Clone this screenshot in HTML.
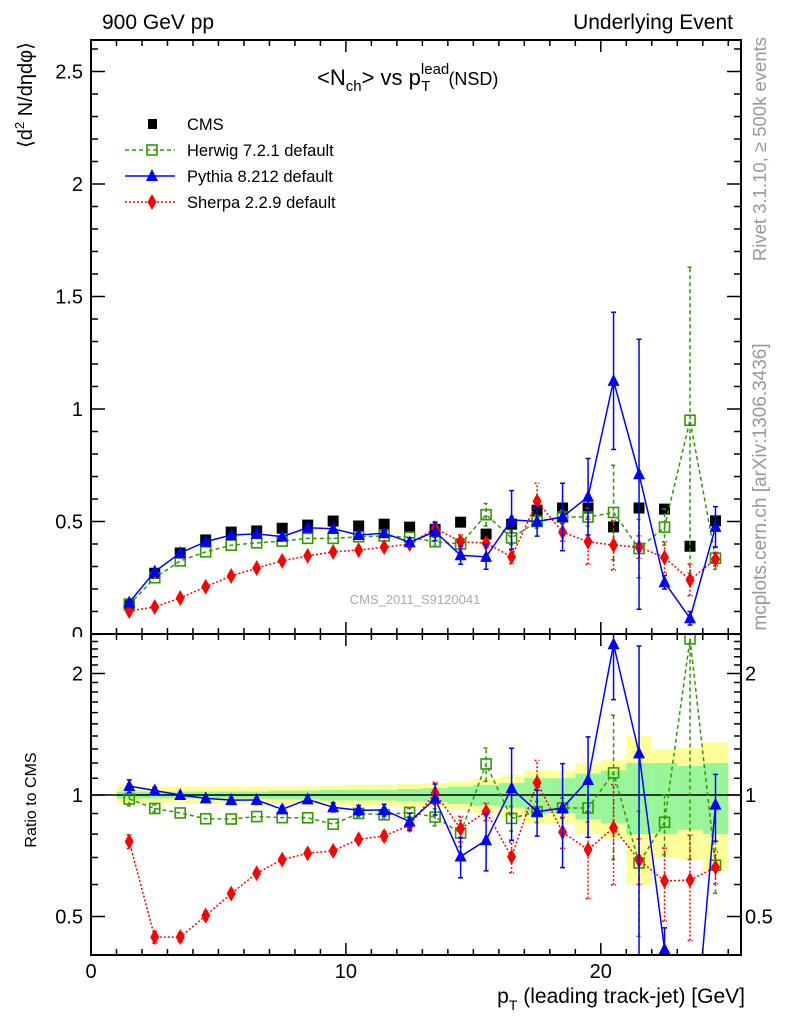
<!DOCTYPE html>
<html><head><meta charset="utf-8"><style>
html,body{margin:0;padding:0;background:#fff;overflow:hidden;}
svg{display:block;font-family:"Liberation Sans",sans-serif;}
</style></head><body>
<svg id="chart" width="786" height="1024" viewBox="0 0 786 1024">
<defs>
<clipPath id="clipMain"><rect x="91" y="40" width="650" height="594"/></clipPath>
<clipPath id="clipRatio"><rect x="91" y="634" width="650" height="321"/></clipPath>
</defs>
<text x="102" y="29" font-size="21">900 GeV pp</text>
<text x="733" y="29" font-size="21" text-anchor="end">Underlying Event</text>
<text x="317" y="85" font-size="22">&lt;N<tspan font-size="15" dy="6">ch</tspan><tspan dy="-6">&gt; vs p</tspan><tspan font-size="15" dy="-11">lead</tspan><tspan font-size="15" dx="-28" dy="17">T</tspan><tspan font-size="18" dx="18" dy="-6">(NSD)</tspan></text>
<text transform="translate(32,148) rotate(-90)" font-size="20">⟨d<tspan font-size="13" dy="-8">2</tspan><tspan dy="8"> N/dηdφ⟩</tspan></text>
<text transform="translate(36,800) rotate(-90)" font-size="16" text-anchor="middle">Ratio to CMS</text>
<text transform="translate(766,37) rotate(-90)" font-size="18.5" fill="#999" text-anchor="end">Rivet 3.1.10, ≥ 500k events</text>
<text transform="translate(766,487) rotate(-90)" font-size="19" fill="#999" text-anchor="middle">mcplots.cern.ch [arXiv:1306.3436]</text>
<text x="415" y="604" font-size="13" fill="#aaa" text-anchor="middle">CMS_2011_S9120041</text>
<text x="745" y="1003" font-size="21" text-anchor="end">p<tspan font-size="14" dy="7">T</tspan><tspan dy="-7"> (leading track-jet) [GeV]</tspan></text>
<g id="bands" clip-path="url(#clipRatio)"></g>
<g id="marks"></g>
<g id="axes"></g>
<g id="legend"></g>
</svg>
<script>
const pt = [1.5,2.5,3.5,4.5,5.5,6.5,7.5,8.5,9.5,10.5,11.5,12.5,13.5,14.5,15.5,16.5,17.5,18.5,19.5,20.5,21.5,22.5,23.5,24.5];
const cms = [0.133,0.27,0.36,0.418,0.453,0.458,0.47,0.484,0.502,0.48,0.488,0.475,0.465,0.497,0.444,0.488,0.55,0.56,0.56,0.476,0.56,0.555,0.39,0.503];
const herwig = [0.13,0.25,0.325,0.365,0.395,0.405,0.413,0.425,0.425,0.432,0.436,0.43,0.41,0.40,0.53,0.427,0.5,0.52,0.52,0.54,0.38,0.475,0.95,0.337];
const herwigErr = [0.005,0.005,0.005,0.005,0.005,0.005,0.006,0.006,0.007,0.008,0.008,0.01,0.02,0.03,0.05,0.03,0.03,0.03,0.04,0.21,0.13,0.08,0.68,0.05];
const pythia = [0.14,0.277,0.36,0.41,0.44,0.445,0.433,0.472,0.468,0.44,0.448,0.408,0.455,0.35,0.343,0.507,0.5,0.52,0.61,1.125,0.71,0.23,0.07,0.476];
const pythiaErr = [0.005,0.005,0.005,0.005,0.006,0.006,0.008,0.01,0.012,0.012,0.015,0.02,0.04,0.04,0.055,0.13,0.065,0.15,0.17,0.305,0.6,0.03,0.03,0.09];
const sherpa = [0.102,0.12,0.16,0.21,0.258,0.293,0.325,0.347,0.365,0.373,0.386,0.4,0.47,0.41,0.404,0.343,0.59,0.453,0.41,0.395,0.386,0.34,0.24,0.333];
const sherpaErr = [0.004,0.004,0.004,0.005,0.005,0.005,0.006,0.006,0.007,0.008,0.01,0.012,0.03,0.03,0.02,0.03,0.08,0.04,0.1,0.11,0.05,0.07,0.07,0.03];
const yellowHW = [0.05,0.05,0.05,0.05,0.05,0.05,0.05,0.05,0.055,0.06,0.06,0.065,0.07,0.08,0.1,0.12,0.15,0.15,0.2,0.22,0.4,0.3,0.31,0.35];
const greenHW = [0.02,0.02,0.02,0.02,0.02,0.02,0.025,0.025,0.03,0.03,0.03,0.035,0.04,0.05,0.06,0.07,0.1,0.1,0.13,0.15,0.2,0.2,0.18,0.2];
const xTicks = [0,10,20];
const yTicks = [0,0.5,1,1.5,2,2.5];
const yTickLabels = ["0","0.5","1","1.5","2","2.5"];
const rTicks = [0.5,1,2];
const rTickLabels = ["0.5","1","2"];

const NS='http://www.w3.org/2000/svg';
const X0=91,X1=741,XMAX=25.5;
const MT=40,MB=634,RB=955;
const sx=v=>X0+v*(X1-X0)/XMAX;
const sy=v=>MB-v*225;
const sr=v=>795-Math.log2(v)*121.5;
function mk(tag,attrs,parent){const e=document.createElementNS(NS,tag);for(const k in attrs)e.setAttribute(k,attrs[k]);parent.appendChild(e);return e;}
const bands=document.getElementById('bands'),marks=document.getElementById('marks'),axes=document.getElementById('axes'),legend=document.getElementById('legend');

pt.forEach((p,i)=>{
  const y=mk('rect',{x:sx(p-0.5),width:sx(p+0.5)-sx(p-0.5),y:sr(1+yellowHW[i]),height:sr(1-yellowHW[i])-sr(1+yellowHW[i]),fill:'#ffff99'},bands);
  
  
});
pt.forEach((p,i)=>{
  const g=mk('rect',{x:sx(p-0.5),width:sx(p+0.5)-sx(p-0.5),y:sr(1+greenHW[i]),height:sr(1-greenHW[i])-sr(1+greenHW[i]),fill:'#99f599'},bands);
  
  
});
const one=mk('line',{x1:X0,x2:X1,y1:sr(1),y2:sr(1),stroke:'#000','stroke-width':1.5},bands);



function marker(type,cx,cy,color,g){
  let m;
  if(type==='sq') m=mk('rect',{x:cx-5.5,y:cy-5.5,width:11,height:11,fill:'#000'},g);
  else if(type==='osq') m=mk('rect',{x:cx-5,y:cy-5,width:10,height:10,fill:'none',stroke:color,'stroke-width':1.6},g);
  else if(type==='tri') m=mk('polygon',{points:`${cx},${cy-7} ${cx-6},${cy+5} ${cx+6},${cy+5}`,fill:color},g);
  else m=mk('polygon',{points:`${cx},${cy-8} ${cx-4.5},${cy} ${cx},${cy+8} ${cx+4.5},${cy}`,fill:color},g);
  return m;
}
function series(name,vals,errs,color,dash,type,panel){
  const ratio=panel==='ratio';
  const g=mk('g',{'clip-path':ratio?'url(#clipRatio)':'url(#clipMain)'},marks);
  
  
  const yv=i=>ratio?vals[i]/cms[i]:vals[i];
  const Y=v=>ratio?sr(Math.max(v,0.05)):sy(v);
  if(errs){
    pt.forEach((p,i)=>{
      const e=ratio?errs[i]/cms[i]:errs[i];
      const lo=Math.max(yv(i)-e,0.01),hi=yv(i)+e;
      if(Y(lo)-Y(hi)>6){
        const x=sx(p);
        const eb=mk('path',{d:`M${x},${Y(lo)}V${Y(hi)}M${x-2.5},${Y(lo)}h5M${x-2.5},${Y(hi)}h5`,stroke:color,'stroke-width':1.5,fill:'none','stroke-dasharray':dash||'none'},g);
        
        
      }
    });
  }
  if(type!=='sq'){
    const d=pt.map((p,i)=>(i?'L':'M')+sx(p)+','+Y(yv(i))).join('');
    const l=mk('path',{d,stroke:color,'stroke-width':1.5,fill:'none','stroke-dasharray':dash||'none'},g);
    
    
  }
  pt.forEach((p,i)=>{
    const m=marker(type,sx(p),Y(yv(i)),color,g);
    
    
  });
}
series('cms',cms,null,'#000',null,'sq','main');
series('herwig',herwig,herwigErr,'#339900','4,3','osq','main');
series('sherpa',sherpa,sherpaErr,'#ff0000','2,2','dia','main');
series('pythia',pythia,pythiaErr,'#0000ff',null,'tri','main');
series('herwig',herwig,herwigErr,'#339900','4,3','osq','ratio');
series('sherpa',sherpa,sherpaErr,'#ff0000','2,2','dia','ratio');
series('pythia',pythia,pythiaErr,'#0000ff',null,'tri','ratio');

[[MT,MB],[MB,RB]].forEach(([t,b],k)=>{
  const f=mk('rect',{x:X0,y:t,width:X1-X0,height:b-t,fill:'none',stroke:'#000','stroke-width':2},axes);
  
  
});
let tp='';
for(let v=0;v<=25;v++){const x=sx(v),L=(v%10===0)?12:6;
  tp+=`M${x},${MB}v${-L}M${x},${MT}v${L}M${x},${RB}v${-L}M${x},${MB}v${L}`;}
for(let k=0;k<=26;k++){const v=k/10,y=sy(v),L=(k%5===0)?14:7;if(y<MT)continue;
  tp+=`M${X0},${y}h${L}M${X1},${y}h${-L}`;}
const rminor=[0.4,0.5,0.6,0.7,0.8,0.9,1,1.1,1.2,1.3,1.4,1.5,1.6,1.7,1.8,1.9,2,2.1,2.2,2.3,2.4,2.5];
rminor.forEach(v=>{const y=sr(v);if(y<MB||y>RB)return;const L=(v===0.5||v===1||v===2)?14:7;
  tp+=`M${X0},${y}h${L}M${X1},${y}h${-L}`;});
const tk=mk('path',{d:tp,stroke:'#000','stroke-width':1.5,fill:'none'},axes);



xTicks.forEach(v=>{const t=mk('text',{x:sx(v),y:978,'font-size':20,'text-anchor':'middle'},axes);t.textContent=String(v);
  
  });
yTicks.forEach((v,i)=>{const t=mk('text',{x:83,y:sy(v)+7,'font-size':20,'text-anchor':'end'},axes);t.textContent=yTickLabels[i];
  if(v===0)t.setAttribute('style','clip-path:inset(0 0 9px 0)');
  
  });
rTicks.forEach((v,i)=>{
  const t=mk('text',{x:745,y:sr(v)+7,'font-size':20},axes);t.textContent=rTickLabels[i];
  
  
  const t2=mk('text',{x:83,y:sr(v)+7,'font-size':20,'text-anchor':'end'},axes);t2.textContent=rTickLabels[i];
  
  
});

const leg=[['CMS','#000',null,'sq'],['Herwig 7.2.1 default','#339900','4,3','osq'],['Pythia 8.212 default','#0000ff',null,'tri'],['Sherpa 2.2.9 default','#ff0000','2,2','dia']];
leg.forEach((e,i)=>{const y=124+i*26;
  const g=mk('g',{},legend);
  
  
  if(e[3]!=='sq')mk('line',{x1:125,x2:175,y1:y,y2:y,stroke:e[1],'stroke-width':1.5,'stroke-dasharray':e[2]||'none'},g);
  if(e[3]==='sq')mk('rect',{x:148,y:y-5,width:9,height:10,fill:'#000'},g);else marker(e[3],152,y,e[1],g);
  const t=mk('text',{x:187,y:y+6,'font-size':16.5},g);t.textContent=e[0];
});
</script>
</body></html>
